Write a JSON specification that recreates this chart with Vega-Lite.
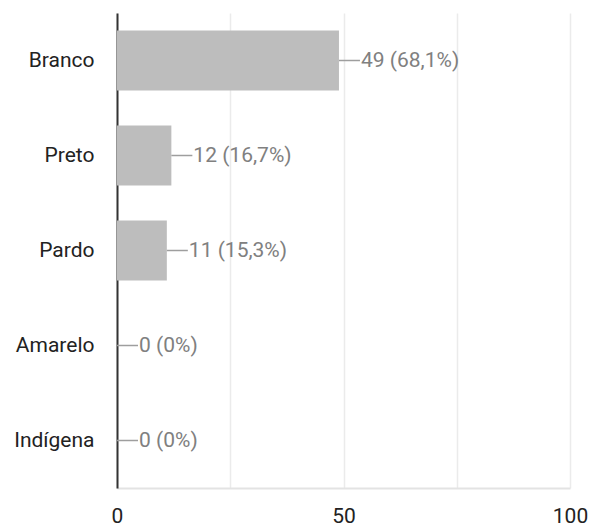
{
  "$schema": "https://vega.github.io/schema/vega-lite/v6.json",
  "width": 453,
  "height": 475,
  "autosize": {"type": "none"},
  "padding": {"left": 117, "top": 13, "right": 19, "bottom": 38},
  "background": "white",
  "config": {
    "view": {"stroke": null},
    "font": "Roboto"
  },
  "data": {
    "values": [
      {"categoria": "Branco", "valor": 49, "rotulo": "49 (68,1%)"},
      {"categoria": "Preto", "valor": 12, "rotulo": "12 (16,7%)"},
      {"categoria": "Pardo", "valor": 11, "rotulo": "11 (15,3%)"},
      {"categoria": "Amarelo", "valor": 0, "rotulo": "0 (0%)"},
      {"categoria": "Indígena", "valor": 0, "rotulo": "0 (0%)"}
    ]
  },
  "encoding": {
    "y": {
      "field": "categoria",
      "type": "nominal",
      "sort": null,
      "scale": {"paddingInner": 0.37, "paddingOuter": 0.185},
      "axis": {
        "title": null,
        "ticks": false,
        "labelPadding": 23,
        "labelFontSize": 21,
        "labelColor": "#222222",
        "labelFont": "Roboto",
        "domainColor": "#333333",
        "domainWidth": 2,
        "grid": false
      }
    }
  },
  "layer": [
    {
      "mark": {"type": "bar", "color": "#bdbdbd"},
      "encoding": {
        "x": {
          "field": "valor",
          "type": "quantitative",
          "scale": {"domain": [0, 100], "nice": false},
          "axis": {
            "title": null,
            "values": [0, 25, 50, 75, 100],
            "labelExpr": "datum.value % 50 == 0 ? datum.label : ''",
            "ticks": false,
            "labelPadding": 17,
            "labelFontSize": 21,
            "labelColor": "#222222",
            "labelFont": "Roboto",
            "domainColor": "#e3e3e3",
            "domainWidth": 2,
            "gridColor": "#ebebeb",
            "gridWidth": 1.5,
            "labelFlush": false,
            "labelOverlap": false
          }
        }
      }
    },
    {
      "mark": {"type": "rule", "color": "#9e9e9e", "strokeWidth": 1.5, "x2Offset": 21},
      "encoding": {
        "x": {"field": "valor", "type": "quantitative"},
        "x2": {"field": "valor"}
      }
    },
    {
      "mark": {"type": "text", "align": "left", "baseline": "middle", "dx": 22, "fontSize": 21, "color": "#808080", "font": "Roboto"},
      "encoding": {
        "x": {"field": "valor", "type": "quantitative"},
        "text": {"field": "rotulo"}
      }
    }
  ]
}
